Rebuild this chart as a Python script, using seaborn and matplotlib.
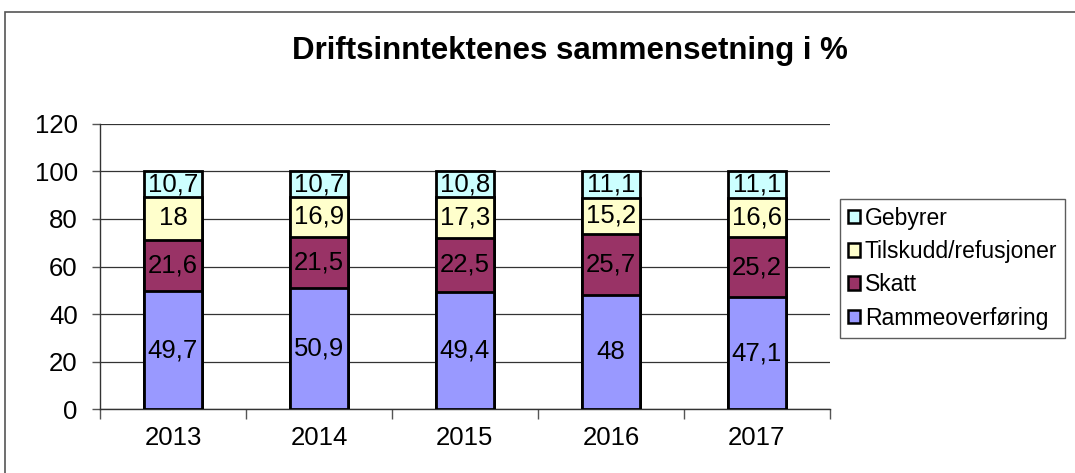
import numpy as np
import pandas as pd
import matplotlib.pyplot as plt
import seaborn as sns
from matplotlib.patches import Patch, Rectangle

years = ["2013", "2014", "2015", "2016", "2017"]
rammeoverforing = [49.7, 50.9, 49.4, 48.0, 47.1]
skatt = [21.6, 21.5, 22.5, 25.7, 25.2]
tilskudd = [18.0, 16.9, 17.3, 15.2, 16.6]
gebyrer = [10.7, 10.7, 10.8, 11.1, 11.1]

series_names = ["Rammeoverføring", "Skatt", "Tilskudd/refusjoner", "Gebyrer"]
series_vals = [rammeoverforing, skatt, tilskudd, gebyrer]
colors = ["#9999FF", "#993366", "#FFFFCC", "#CCFFFF"]

sns.set_style("white")
plt.rcParams['font.family'] = ['Liberation Sans', 'DejaVu Sans']
plt.rcParams['text.color'] = 'black'
plt.rcParams['xtick.labelcolor'] = 'black'
plt.rcParams['ytick.labelcolor'] = 'black'

fig = plt.figure(figsize=(10.75, 4.73), dpi=100)
ax = fig.add_axes([0.093, 0.135, 0.679, 0.603])

# stacked bars: draw cumulative totals from the top down so each layer overlays
cum = np.cumsum(np.array(series_vals), axis=0)
for i in range(len(series_names) - 1, -1, -1):
    df = pd.DataFrame({"year": years, "value": cum[i]})
    sns.barplot(data=df, x="year", y="value", color=colors[i], width=0.4,
                edgecolor="black", linewidth=2, saturation=1, ax=ax, zorder=3)

# segment labels
for i, vals in enumerate(series_vals):
    base = cum[i] - np.array(vals)
    for j, v in enumerate(vals):
        txt = f"{v:g}".replace(".", ",")
        ax.text(j, base[j] + v / 2, txt, ha="center", va="center",
                fontsize=18.5, color="black", zorder=5)

ax.set_ylim(0, 120)
ax.set_xlim(-0.5, 4.5)
ax.set_yticks(range(0, 121, 20))
ax.yaxis.grid(True, color="#333333", linewidth=0.9, zorder=0)
ax.set_axisbelow(True)
ax.set_xlabel("")
ax.set_ylabel("")
ax.tick_params(axis="y", labelsize=18.5, length=6, width=1, color="#555555", labelcolor="black",
               direction="out", left=True, pad=10)
ax.tick_params(axis="x", which="major", labelsize=18.5, length=0, labelcolor="black", pad=12)
ax.set_xticks(np.arange(-0.5, 5, 1), minor=True)
ax.tick_params(axis="x", which="minor", length=7, width=1, color="#555555", direction="out", bottom=True)
for s in ["top", "right"]:
    ax.spines[s].set_visible(False)
for s in ["left", "bottom"]:
    ax.spines[s].set_color("#333333")
    ax.spines[s].set_linewidth(1)

fig.text(0.53, 0.893, "Driftsinntektenes sammensetning i %", ha="center", va="center",
         fontsize=22.5, fontweight="bold", color="black")

handles = [Patch(facecolor=colors[i], edgecolor="black", linewidth=1.8, label=series_names[i])
           for i in range(len(series_names) - 1, -1, -1)]
leg = fig.legend(handles=handles, loc="upper left", bbox_to_anchor=(0.781, 0.58),
                 fontsize=16.5, frameon=True, fancybox=False, handlelength=0.55,
                 handleheight=0.55, handletextpad=0.2, labelspacing=0.45, borderpad=0.35,
                 borderaxespad=0, labelcolor="black")
leg.get_frame().set_edgecolor("#333333")
leg.get_frame().set_linewidth(1)

fig.patches.append(Rectangle((5 / 1075, -0.1), 1.2, 1.1 - 12 / 473, transform=fig.transFigure,
                             fill=False, edgecolor="#555555", linewidth=1.2))

fig.savefig("out.png", dpi=100)
